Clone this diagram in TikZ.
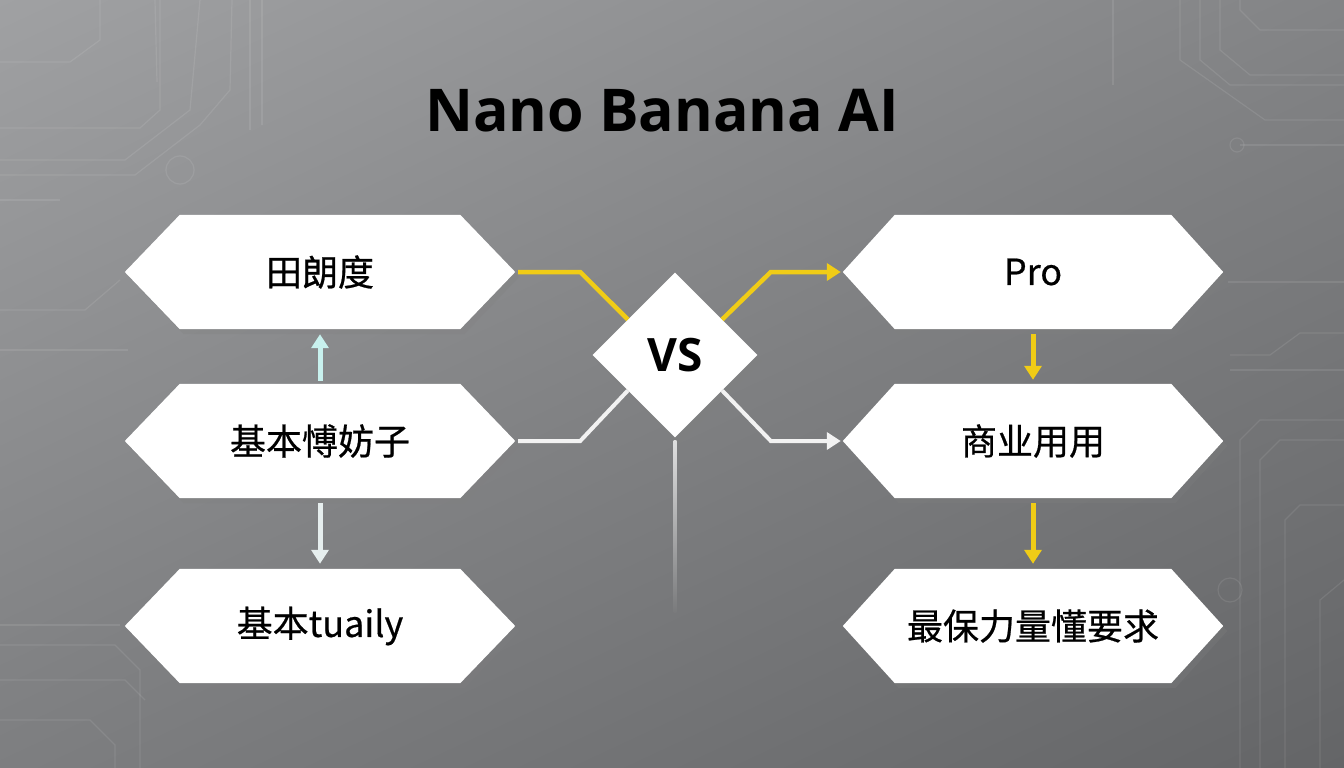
\documentclass[tikz,border=0pt]{standalone}
\usepackage{fontspec}
\setmainfont{Noto Sans}
\newfontfamily\cjk[FakeBold=0.6]{Noto Sans CJK SC}
\newfontfamily\titlefont{Open Sans}
\usetikzlibrary{shapes.geometric,arrows.meta,shadows}
\pgfdeclarelayer{bglayer}
\pgfdeclarelayer{hexlayer}
\pgfsetlayers{bglayer,hexlayer,main}
\definecolor{bgtop}{HTML}{A2A3A5}
\definecolor{bgmid}{HTML}{808183}
\definecolor{bgbot}{HTML}{626365}
\definecolor{ylw}{RGB}{240,204,22}
\definecolor{cyanarr}{HTML}{C8F1EE}
\definecolor{palearr}{HTML}{E6EEEE}
\definecolor{wline}{HTML}{F2F2F2}
\tikzset{
  hexbox/.style={rectangle, minimum width=390pt, minimum height=114pt,
    inner sep=0pt, text=black, font=\cjk\fontsize{36}{40}\selectfont},
  hexboxr/.style={hexbox, minimum width=380pt},
  hexfill/.style={fill=white,
    drop shadow={opacity=0.28, shadow xshift=4pt, shadow yshift=-5pt}},
  vsbox/.style={diamond, minimum width=165pt, minimum height=165pt, inner sep=0pt,
    fill=white, font=\titlefont\bfseries\fontsize{46}{50}\selectfont,
    drop shadow={opacity=0.3, shadow xshift=4pt, shadow yshift=-6pt}},
  ylink/.style={draw=ylw, line width=4.5pt, line join=miter},
  wlink/.style={draw=wline, line width=4pt, line join=miter},
  tipc/.style={-{Triangle[width=17pt,length=14pt]}},
  circ/.style={draw=white, opacity=0.09, line width=1.2pt}
}
\newcommand{\hexshape}[2]{%
  \begin{pgfonlayer}{hexlayer}
  \path[hexfill] (#1.west) -- ([xshift=#2]#1.north west) -- ([xshift=-#2]#1.north east)
    -- (#1.east) -- ([xshift=-#2]#1.south east) -- ([xshift=#2]#1.south west) -- cycle;
  \end{pgfonlayer}}
\begin{document}
\begin{tikzpicture}[x=1pt,y=-1pt]
\useasboundingbox (0,0) rectangle (1344,768);
\begin{pgfonlayer}{bglayer}
\shade[shading=axis, top color=bgtop, bottom color=bgbot, middle color=bgmid, shading angle=25] (-200,-200) rectangle (1544,968);
% faint circuit traces
\draw[circ] (0,62) -- (70,62) -- (100,40) -- (100,0);
\draw[circ] (0,128) -- (140,128) -- (160,110) -- (160,0);
\draw[circ] (0,160) -- (125,160) -- (190,110) -- (200,0);
\draw[circ] (0,175) -- (135,175) -- (200,125) -- (230,90) -- (232,0);
\draw[circ] (155,0) -- (157,82);
\draw[circ] (250,0) -- (250,130);
\draw[circ] (262,0) -- (262,125);
\draw[circ] (0,200) -- (60,200);
\draw[circ] (180,170) circle (14);
\draw[circ] (0,310) -- (85,310) -- (120,280);
\draw[circ] (0,350) -- (128,350);
\draw[circ] (0,625) -- (120,625);
\draw[circ] (0,645) -- (115,645) -- (140,670) -- (140,768);
\draw[circ] (0,680) -- (125,680) -- (145,700);
\draw[circ] (0,720) -- (90,720) -- (115,745) -- (115,768);
\draw[circ] (1344,30) -- (1260,30) -- (1240,10) -- (1240,0);
\draw[circ] (1344,75) -- (1250,75) -- (1220,50) -- (1220,0);
\draw[circ] (1344,85) -- (1230,85) -- (1200,60) -- (1200,0);
\draw[circ] (1344,120) -- (1265,120) -- (1180,60) -- (1180,0);
\draw[circ] (1344,145) -- (1240,145);
\draw[circ] (1113,0) -- (1113,85);
\draw[circ] (1344,282) -- (1228,282);
\draw[circ] (1344,333) -- (1300,333) -- (1270,355) -- (1230,355);
\draw[circ] (1344,370) -- (1230,370);
\draw[circ] (1344,420) -- (1260,420) -- (1240,440) -- (1240,768);
\draw[circ] (1344,440) -- (1280,440) -- (1260,460) -- (1260,768);
\draw[circ] (1344,505) -- (1300,505) -- (1285,520) -- (1285,768);
\draw[circ] (1344,580) -- (1320,600) -- (1320,768);
\draw[circ] (1230,590) circle (12);
\draw[circ] (1237,145) circle (7);
% vertical guide line under diamond
\shade[top color=white!75!bgmid, bottom color=bgbot!85!white] (673.5,440) rectangle (676.5,612);
\end{pgfonlayer}
% title
\node (title) at (662,111) {\titlefont\bfseries\fontsize{59}{64}\selectfont Nano Banana AI};
% left column
\node[hexbox] (l1) at (320,272) {田朗度};
\node[hexbox] (l2) at (320,441) {基本愽妨子};
\node[hexbox] (l3) at (320,626) {基本tuaily};
% right column
\node[hexboxr] (r1) at (1033,272) {Pro};
\node[hexboxr] (r2) at (1033,441) {商业用用};
\node[hexboxr] (r3) at (1033,626) {最保力量懂要求};
\hexshape{l1}{55pt}\hexshape{l2}{55pt}\hexshape{l3}{55pt}
\hexshape{r1}{52pt}\hexshape{r2}{52pt}\hexshape{r3}{52pt}
% centre diamond
\node[vsbox] (vs) at (675,355) {VS};
% connectors to and from the diamond
\draw[ylink] ([xshift=3pt]l1.east) -- ++(62,0) -- (vs.143);
\draw[ylink, tipc] (vs.37) -- ([xshift=-72pt]r1.west) -- ([xshift=-2pt]r1.west);
\draw[wlink] ([xshift=3pt]l2.east) -- ++(62,0) -- (vs.-143);
\draw[wlink, tipc] (vs.-37) -- ([xshift=-72pt]r2.west) -- ([xshift=-2pt]r2.west);
% vertical arrows
\draw[draw=cyanarr, line width=5pt, tipc, shorten <=3pt, shorten >=5pt] (l2.north) -- (l1.south);
\draw[draw=palearr, line width=5pt, tipc, shorten <=5pt, shorten >=5pt] (l2.south) -- (l3.north);
\draw[draw=ylw, line width=5pt, tipc, shorten <=5pt, shorten >=4pt] (r1.south) -- (r2.north);
\draw[draw=ylw, line width=5pt, tipc, shorten <=5pt, shorten >=5pt] (r2.south) -- (r3.north);
\end{tikzpicture}
\end{document}
